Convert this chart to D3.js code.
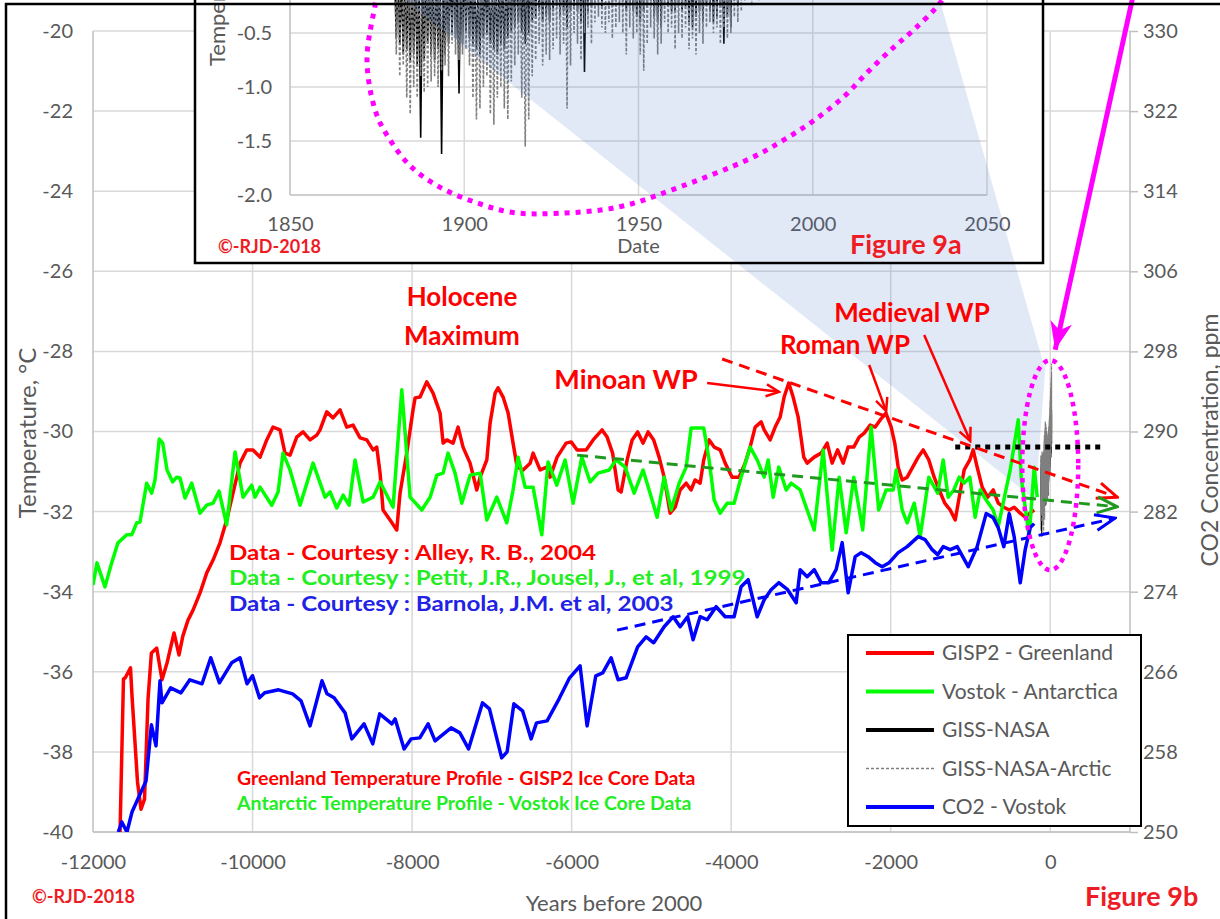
<!DOCTYPE html>
<html><head><meta charset="utf-8">
<script src="https://cdn.jsdelivr.net/npm/d3@7"></script>
<style>html,body{margin:0;padding:0;background:#fff;overflow:hidden}svg{display:block;font-family:Lato,'Open Sans',sans-serif}</style>
</head><body><svg id="c" width="1220" height="919"></svg>
<script>
// ---------------- DATA ----------------
const yearTicks = [-12000,-10000,-8000,-6000,-4000,-2000,0];
const tempTicks = [-40,-38,-36,-34,-32,-30,-28,-26,-24,-22,-20];
const co2Ticks  = [250,258,266,274,282,290,298,306,314,322,330];
const insetYearTicks = [1850,1900,1950,2000,2050];
const insetTempTicks = [-2.0,-1.5,-1.0,-0.5];
const legendNames = ["GISP2 - Greenland","Vostok - Antarctica","GISS-NASA","GISS-NASA-Arctic","CO2 - Vostok"];

// GISP2 Greenland temperature [years before 2000, °C]
const gisp2 = [
[-11661,-40.0],[-11618,-36.18],[-11595,-36.15],[-11530,-35.90],[-11511,-36.60],[-11442,-38.75],[-11398,-39.43],[-11354,-39.18],[-11310,-36.68],[-11268,-35.53],
[-11201,-35.41],[-11135,-36.20],[-11072,-35.78],[-10984,-35.03],[-10922,-35.58],[-10874,-35.11],[-10809,-34.71],[-10746,-34.46],[-10658,-34.03],[-10574,-33.53],
[-10495,-33.21],[-10408,-32.78],[-10324,-32.21],[-10245,-31.54],[-10157,-30.79],[-10073,-30.46],[-9994,-30.46],[-9906,-30.64],[-9822,-30.21],[-9743,-29.89],
[-9655,-29.96],[-9593,-30.54],[-9530,-30.59],[-9446,-30.14],[-9367,-30.01],[-9279,-30.21],[-9195,-30.09],[-9154,-29.96],[-9070,-29.51],[-8991,-29.66],
[-8903,-29.46],[-8819,-29.89],[-8740,-29.84],[-8652,-30.16],[-8568,-30.21],[-8489,-30.46],[-8443,-30.39],[-8401,-31.04],[-8364,-31.96],[-8276,-32.21],
[-8192,-32.46],[-8151,-31.54],[-8067,-30.54],[-7988,-29.46],[-7962,-29.16],[-7900,-29.14],[-7816,-28.76],[-7737,-29.04],[-7649,-29.54],[-7611,-30.29],
[-7565,-30.21],[-7486,-30.29],[-7423,-29.89],[-7361,-30.39],[-7273,-30.79],[-7189,-31.46],[-7147,-31.14],[-7063,-30.71],[-7022,-29.79],[-6959,-29.04],
[-6922,-28.91],[-6859,-29.14],[-6796,-29.54],[-6734,-30.29],[-6683,-30.89],[-6608,-30.96],[-6520,-30.79],[-6483,-30.54],[-6395,-30.96],[-6311,-30.89],
[-6270,-31.14],[-6182,-30.64],[-6069,-30.29],[-6006,-30.26],[-5931,-30.46],[-5818,-30.46],[-5730,-30.21],[-5618,-29.96],[-5555,-30.14],[-5486,-30.54],
[-5417,-31.46],[-5379,-31.51],[-5304,-30.71],[-5241,-30.21],[-5172,-30.01],[-5104,-30.29],[-5041,-30.01],[-4971,-30.21],[-4903,-30.64],[-4840,-31.14],
[-4765,-32.04],[-4702,-31.89],[-4640,-31.46],[-4564,-31.29],[-4502,-31.46],[-4452,-31.21],[-4389,-31.29],[-4344,-30.71],[-4276,-30.21],[-4213,-30.39],
[-4138,-30.46],[-4075,-30.79],[-3988,-31.14],[-3900,-31.14],[-3825,-30.79],[-3762,-30.39],[-3699,-29.89],[-3624,-29.76],[-3586,-29.96],[-3511,-30.21],
[-3448,-29.89],[-3386,-29.64],[-3336,-29.14],[-3278,-28.79],[-3223,-29.14],[-3160,-29.64],[-3090,-30.64],[-3047,-30.79],[-2959,-30.64],[-2872,-30.54],
[-2796,-30.29],[-2734,-30.79],[-2665,-30.46],[-2596,-30.79],[-2533,-30.39],[-2463,-30.39],[-2395,-30.14],[-2332,-30.04],[-2257,-29.84],[-2194,-29.89],
[-2132,-29.71],[-2060,-29.54],[-1994,-29.89],[-1949,-30.29],[-1906,-30.89],[-1856,-31.21],[-1793,-31.14],[-1724,-30.89],[-1655,-30.64],[-1593,-30.46],
[-1522,-30.71],[-1455,-31.14],[-1392,-31.46],[-1322,-31.79],[-1254,-31.96],[-1191,-32.21],[-1141,-31.64],[-1079,-30.96],[-1008,-30.71],[-966,-30.46],
[-916,-30.89],[-853,-31.39],[-784,-31.64],[-715,-31.46],[-652,-31.79],[-582,-31.89],[-514,-31.96],[-452,-31.89],[-376,-32.04],[-314,-32.14],
[-251,-32.04],[-201,-31.96]
];

// Vostok Antarctica temperature [years before 2000, °C]
const vostok = [
[-12000,-33.83],[-11950,-33.28],[-11850,-33.88],[-11766,-33.28],[-11687,-32.78],[-11577,-32.58],[-11515,-32.58],[-11452,-32.28],[-11411,-32.26],[-11327,-31.29],
[-11264,-31.54],[-11223,-31.21],[-11169,-30.19],[-11126,-30.29],[-11072,-30.96],[-11001,-31.26],[-10950,-31.14],[-10909,-31.16],[-10846,-31.66],[-10762,-31.29],
[-10658,-32.04],[-10574,-31.84],[-10495,-31.79],[-10420,-31.49],[-10324,-32.33],[-10219,-30.51],[-10119,-31.64],[-10010,-31.34],[-9969,-31.64],[-9906,-31.39],
[-9759,-31.84],[-9680,-31.51],[-9618,-30.54],[-9530,-30.96],[-9404,-31.84],[-9241,-30.79],[-9091,-31.64],[-9028,-31.51],[-8944,-31.91],[-8865,-31.59],
[-8790,-31.84],[-8715,-30.71],[-8614,-31.76],[-8489,-31.64],[-8401,-31.26],[-8238,-31.89],[-8129,-28.96],[-8025,-31.64],[-7878,-31.96],[-7774,-31.64],
[-7690,-31.09],[-7611,-31.04],[-7549,-30.54],[-7461,-31.04],[-7377,-31.79],[-7273,-31.09],[-7147,-31.04],[-7063,-32.21],[-6938,-31.64],[-6813,-32.28],
[-6734,-31.46],[-6671,-30.64],[-6583,-31.39],[-6483,-31.39],[-6374,-32.58],[-6295,-30.76],[-6186,-31.34],[-6082,-30.71],[-5981,-31.79],[-5872,-30.64],
[-5768,-31.26],[-5668,-31.04],[-5530,-30.96],[-5442,-30.71],[-5329,-30.89],[-5216,-31.54],[-5104,-30.96],[-5016,-31.54],[-4928,-32.14],[-4840,-31.14],
[-4752,-31.96],[-4652,-31.29],[-4564,-30.89],[-4502,-29.91],[-4344,-29.91],[-4276,-30.71],[-4213,-31.71],[-4138,-32.04],[-4050,-31.79],[-3963,-31.79],
[-3875,-31.14],[-3762,-30.39],[-3674,-30.71],[-3586,-31.14],[-3536,-30.71],[-3473,-31.64],[-3403,-30.89],[-3310,-31.46],[-3248,-31.29],[-3135,-31.46],
[-3047,-31.96],[-2959,-32.46],[-2847,-30.46],[-2734,-32.96],[-2646,-31.14],[-2558,-32.53],[-2463,-31.14],[-2351,-32.46],[-2245,-29.89],[-2150,-31.96],
[-2057,-31.46],[-1969,-31.46],[-1931,-30.96],[-1856,-31.96],[-1793,-32.28],[-1705,-31.79],[-1630,-32.63],[-1522,-31.14],[-1411,-31.54],[-1342,-30.71],
[-1279,-31.64],[-1209,-31.46],[-1141,-31.14],[-1079,-31.29],[-1008,-31.14],[-941,-32.14],[-878,-31.46],[-803,-31.71],[-715,-31.96],[-652,-32.38],
[-582,-31.71],[-502,-30.96],[-401,-29.71],[-364,-31.14],[-264,-32.63],[-201,-30.89],[-163,-31.64]
];

// CO2 Vostok [years before 2000, ppm]
const co2 = [
[-11683,250.0],[-11639,251.0],[-11574,250.0],[-11511,252.0],[-11398,254.0],[-11335,255.1],[-11268,260.7],[-11210,258.6],[-11160,265.1],[-11135,262.9],
[-11027,264.4],[-10897,263.9],[-10786,265.2],[-10633,264.8],[-10524,267.4],[-10415,264.9],[-10262,266.9],[-10157,267.4],[-10069,264.8],[-10000,265.6],
[-9913,263.4],[-9847,263.9],[-9673,264.2],[-9498,263.8],[-9392,263.1],[-9279,260.6],[-9129,265.1],[-9066,263.8],[-8978,263.4],[-8840,261.9],
[-8755,259.3],[-8602,260.8],[-8493,258.8],[-8406,261.8],[-8253,260.8],[-8213,261.3],[-8100,258.3],[-8013,259.3],[-7903,259.4],[-7799,260.8],
[-7712,259.1],[-7511,260.4],[-7401,259.9],[-7292,258.3],[-7117,262.9],[-7030,262.3],[-6877,257.4],[-6809,258.0],[-6724,262.8],[-6615,262.1],
[-6508,259.3],[-6440,260.9],[-6307,261.1],[-6157,263.3],[-6025,265.4],[-5894,266.6],[-5806,260.6],[-5697,265.6],[-5610,265.9],[-5505,267.4],
[-5417,265.2],[-5317,265.4],[-5172,268.5],[-5066,269.5],[-4971,268.9],[-4840,270.5],[-4727,271.5],[-4640,270.5],[-4546,271.5],[-4477,269.2],
[-4389,271.5],[-4301,271.2],[-4188,272.5],[-4075,271.5],[-3963,271.5],[-3875,274.5],[-3787,275.2],[-3674,271.5],[-3586,273.2],[-3499,274.2],
[-3403,274.9],[-3292,274.2],[-3185,272.9],[-3135,276.2],[-3047,275.5],[-2959,276.2],[-2872,274.9],[-2776,274.9],[-2684,276.2],[-2608,278.9],
[-2533,273.9],[-2445,277.5],[-2370,277.9],[-2282,277.5],[-2194,276.9],[-2107,276.5],[-2019,276.9],[-1906,277.9],[-1793,278.5],[-1655,279.5],
[-1568,279.2],[-1480,278.2],[-1411,277.7],[-1342,278.5],[-1254,278.2],[-1166,278.5],[-1028,276.5],[-916,278.5],[-803,281.8],[-715,281.4],
[-652,280.4],[-582,278.5],[-514,281.8],[-452,279.5],[-376,274.9],[-314,278.2],[-251,280.4],[-201,280.8]
];

// GISS-NASA anomalies (annual low / high of monthly values), 1880-2017
const gissStartYear = 1880;
const gissOffset = -31;   // shift of anomalies onto the main temperature axis
const arcticLo = [
-0.70,-0.90,-0.80,-1.10,-1.25,-1.00,-1.10,-0.90,-1.05,-1.00,
-0.95,-0.90,-1.00,-0.85,-0.80,-0.90,-0.60,-0.70,-0.75,-0.70,
-0.65,-0.80,-1.10,-1.30,-1.20,-1.00,-0.90,-1.25,-1.35,-1.10,
-1.00,-1.20,-1.30,-0.95,-0.80,-0.70,-1.10,-1.55,-1.30,-0.90,
-0.75,-0.60,-0.80,-0.70,-0.75,-0.65,-0.55,-0.70,-0.60,-1.20,
-0.80,-0.50,-0.60,-0.75,-0.50,-0.45,-0.60,-0.40,-0.35,-0.45,
-0.50,-0.40,-0.55,-0.45,-0.40,-0.50,-0.70,-0.45,-0.55,-0.50,
-0.70,-0.85,-0.60,-0.45,-0.55,-0.70,-0.60,-0.40,-0.50,-0.45,
-0.65,-0.50,-0.55,-0.45,-0.65,-0.55,-0.70,-0.50,-0.60,-0.45,
-0.40,-0.50,-0.45,-0.60,-0.45,-0.55,-0.50,-0.35,-0.40,-0.30,
-0.20,-0.15,-0.25,-0.10,-0.20,-0.15,-0.05,-0.10,0.00,-0.10,
0.05,0.00,-0.10,-0.05,0.10,0.20,0.10,0.15,0.30,0.20,
0.25,0.35,0.40,0.45,0.35,0.60,0.55,0.70,0.50,0.55,
0.80,0.70,0.85,0.60,0.75,0.90,1.10,0.95];
const arcticHi = [
0.30,0.20,0.40,0.25,0.10,0.35,0.30,0.20,0.30,0.40,
0.35,0.30,0.20,0.25,0.30,0.40,0.45,0.50,0.35,0.40,
0.45,0.35,0.20,0.15,0.25,0.30,0.40,0.20,0.15,0.30,
0.30,0.25,0.20,0.35,0.45,0.50,0.30,0.10,0.25,0.45,
0.55,0.70,0.60,0.75,0.65,0.80,0.90,0.75,0.85,0.60,
0.85,1.00,0.90,0.80,1.05,1.10,0.95,1.20,1.25,1.10,
1.05,1.15,0.90,1.10,1.20,1.00,0.85,1.05,0.90,0.95,
0.85,0.80,0.95,1.10,0.90,0.80,0.75,1.00,0.95,0.90,
0.85,0.95,0.80,0.90,0.70,0.65,0.60,0.75,0.70,0.80,
0.75,0.70,0.80,0.85,0.70,0.75,0.65,0.90,0.85,0.95,
1.05,1.10,0.95,1.15,1.00,1.10,1.20,1.25,1.30,1.20,
1.35,1.40,1.20,1.30,1.45,1.60,1.50,1.55,1.75,1.65,
1.70,1.80,1.85,1.90,1.80,2.05,2.00,2.20,2.00,2.05,
2.25,2.20,2.35,2.15,2.30,2.45,2.70,2.50];
const gissLo = [
-0.55,-0.60,-0.70,-0.65,-0.75,-0.70,-0.80,-1.47,-0.75,-0.60,
-0.70,-0.75,-0.65,-1.62,-0.70,-0.60,-0.50,-0.55,-1.06,-0.60,
-0.50,-0.55,-0.60,-0.65,-0.70,-0.55,-0.50,-0.60,-0.65,-0.70,
-0.60,-0.65,-0.55,-0.50,-0.45,-0.40,-0.50,-0.60,-0.50,-0.40,
-0.35,-0.30,-0.40,-0.35,-0.40,-0.30,-0.25,-0.35,-0.30,-0.45,
-0.30,-0.25,-0.30,-0.40,-0.86,-0.30,-0.25,-0.20,-0.20,-0.25,
-0.15,-0.10,-0.20,-0.15,-0.10,-0.20,-0.30,-0.25,-0.30,-0.35,
-0.40,-0.30,-0.25,-0.20,-0.35,-0.40,-0.45,-0.20,-0.25,-0.30,
-0.30,-0.25,-0.30,-0.25,-0.40,-0.45,-0.35,-0.30,-0.40,-0.25,
-0.30,-0.40,-0.35,-0.25,-0.60,-0.35,-0.45,-0.20,-0.25,-0.15,
-0.05,-0.05,-0.15,0.00,-0.10,-0.10,0.00,0.05,0.10,0.00,
0.15,0.10,-0.05,0.00,0.10,0.20,0.15,0.20,0.35,0.20,
0.25,0.35,0.40,0.40,0.35,0.45,0.40,0.50,0.35,0.45,
0.55,0.45,0.50,0.50,0.55,0.65,0.80,0.70];
const gissHi = [
0.10,0.05,0.00,0.05,-0.05,0.00,0.05,0.00,0.05,0.10,
0.00,0.05,0.00,0.05,0.00,0.05,0.10,0.15,0.05,0.10,
0.15,0.10,0.00,-0.05,-0.10,0.00,0.05,-0.05,-0.05,0.00,
0.00,-0.05,0.00,0.05,0.15,0.20,0.05,-0.05,0.05,0.10,
0.15,0.20,0.15,0.15,0.20,0.25,0.30,0.25,0.30,0.20,
0.30,0.35,0.30,0.25,0.35,0.30,0.35,0.40,0.45,0.40,
0.50,0.55,0.45,0.50,0.60,0.45,0.30,0.35,0.30,0.30,
0.30,0.40,0.45,0.50,0.35,0.30,0.25,0.50,0.45,0.40,
0.40,0.45,0.40,0.45,0.30,0.30,0.35,0.40,0.35,0.45,
0.45,0.35,0.40,0.50,0.35,0.40,0.30,0.55,0.50,0.60,
0.70,0.75,0.60,0.80,0.65,0.65,0.70,0.80,0.85,0.80,
0.90,0.85,0.70,0.75,0.85,0.95,0.90,1.00,1.15,1.00,
1.05,1.10,1.15,1.15,1.10,1.20,1.15,1.25,1.10,1.20,
1.30,1.20,1.25,1.25,1.30,1.45,1.55,1.45];

// annotation geometry in data units
const redTrend   = [[-4113,-28.19],[840,-31.64]];
const greenTrend = [[-5931,-30.59],[840,-31.88]];
const blueTrend  = [[-5430,270.16],[815,281.35]];   // ppm
const blackLevel = [[-1191,-30.39],[689,-30.39]];
const minoanArrow  = [[-4301,-28.79],[-3398,-29.01]];
const romanArrow   = [[-2270,-28.34],[-2057,-29.49]];
const medievalArrow= [[-1580,-27.59],[-1003,-30.24]];
const magentaArrow = [[1041,-19.1],[62,-27.96]];
const cone = [[-8226,-19.0],[-1417,-19.0],[-63,-28.46],[-188,-31.71]];
const zoomEllipse = {year:0, temp:-30.84, dYear:351, dTemp:2.62};
const insetLoop = [[1875.9,0.08],[1874.7,-0.19],[1872.1,-0.75],[1874.7,-1.24],[1878.7,-1.49],[1884.8,-1.74],[1893.1,-1.93],[1903.4,-2.07],[1913.5,-2.16],[1927.0,-2.17],[1944.5,-2.11],[1959.8,-1.95],[1982.2,-1.66],[1991.7,-1.49],[2000.3,-1.31],[2008.9,-1.09],[2015.8,-0.86],[2023.3,-0.63],[2029.0,-0.47],[2036.8,-0.21],[2041,0.04]];

// ---------------- CHART ----------------
const svg = d3.select('#c');
const GRAY='#595959', GRID='#d9d9d9', AX='#bfbfbf', RED='#ff0000', FIGRED='#ee1c25';
const L=93,R=1130,T=31,B=832;
const x  = d3.scaleLinear().domain([-12000,1000]).range([L,R]);
const yT = d3.scaleLinear().domain([-40,-20]).range([B,T]);
const yC = d3.scaleLinear().domain([250,330]).range([B,T]);

const defs = svg.append('defs');
defs.append('clipPath').attr('id','plotClip').append('rect').attr('x',L).attr('y',T).attr('width',R-L).attr('height',B-T);
defs.append('clipPath').attr('id','insetClip').append('rect').attr('x',290).attr('y',-400).attr('width',697).attr('height',595);
defs.append('clipPath').attr('id','insetBoxClip').append('rect').attr('x',196).attr('y',-20).attr('width',846).attr('height',282);

function openHead(id,color,len,half,w){
  defs.append('marker').attr('id',id).attr('markerUnits','userSpaceOnUse')
    .attr('viewBox',`-2 -2 ${len+4} ${2*half+4}`).attr('markerWidth',len+4).attr('markerHeight',2*half+4)
    .attr('refX',len).attr('refY',half).attr('orient','auto')
    .append('path').attr('d',`M0,0 L${len},${half} L0,${2*half}`).attr('fill','none')
    .attr('stroke',color).attr('stroke-width',w).attr('stroke-linejoin','miter');
}
openHead('hRed',RED,13,6,2.5);
openHead('tRed',RED,20,8,3);
openHead('tGreen','#1f9a1f',20,8,3);
openHead('tBlue','#0000ff',20,8,3);
defs.append('marker').attr('id','hMag').attr('markerUnits','userSpaceOnUse')
  .attr('viewBox','0 0 30 22').attr('markerWidth',30).attr('markerHeight',22)
  .attr('refX',28).attr('refY',11).attr('orient','auto')
  .append('path').attr('d','M0,0 L28,11 L0,22 L8,11 Z').attr('fill','#ff00ff');

svg.append('rect').attr('width',1220).attr('height',919).attr('fill','#fff');

// gridlines
const g = svg.append('g');
g.selectAll('.hg').data(tempTicks).join('line').attr('x1',L).attr('x2',R)
  .attr('y1',d=>yT(d)).attr('y2',d=>yT(d)).attr('stroke',GRID).attr('stroke-width',1.5);
g.selectAll('.vg').data(yearTicks.slice(1)).join('line').attr('y1',T).attr('y2',B)
  .attr('x1',d=>x(d)).attr('x2',d=>x(d)).attr('stroke',GRID).attr('stroke-width',1.5);
g.append('line').attr('x1',L).attr('x2',L).attr('y1',T).attr('y2',B).attr('stroke',AX).attr('stroke-width',1.5);
g.append('line').attr('x1',R).attr('x2',R).attr('y1',T).attr('y2',B).attr('stroke',AX).attr('stroke-width',1.5);
g.append('line').attr('x1',L).attr('x2',R).attr('y1',B).attr('y2',B).attr('stroke',AX).attr('stroke-width',1.5);

// cone (under series)
const conePts = cone.map(d=>[x(d[0]),yT(d[1])].join(',')).join(' ');
svg.append('polygon').attr('points',conePts).attr('fill','#4472c4').attr('opacity',0.16);

// axes labels
const axL = d3.axisLeft(yT).tickValues(tempTicks).tickSize(0).tickPadding(20).tickFormat(d=>String(d));
const axR = d3.axisRight(yC).tickValues(co2Ticks).tickSize(8).tickPadding(5).tickFormat(d=>String(d));
const axB = d3.axisBottom(x).tickValues(yearTicks).tickSize(0).tickPadding(23).tickFormat(d=>String(d));
function styleAxis(sel){ sel.select('.domain').remove(); sel.selectAll('text').attr('fill',GRAY).style('font-size','20px').style('font-family','Lato'); sel.selectAll('line').attr('stroke',AX).attr('stroke-width',1.5); }
svg.append('g').attr('transform',`translate(${L},0)`).call(axL).call(styleAxis);
svg.append('g').attr('transform',`translate(${R},0)`).call(axR).call(styleAxis);
svg.append('g').attr('transform',`translate(0,${B})`).call(axB).call(styleAxis);

// axis titles
svg.append('text').attr('transform','translate(36,433) rotate(-90)').attr('text-anchor','middle')
  .attr('fill',GRAY).style('font-size','24px').text('Temperature, °C');
svg.append('text').attr('transform','translate(1218,440) rotate(-90)').attr('text-anchor','middle')
  .attr('fill',GRAY).style('font-size','23px').text('CO2 Concentration, ppm');
svg.append('text').attr('x',614).attr('y',911).attr('text-anchor','middle')
  .attr('fill',GRAY).style('font-size','22px').text('Years before 2000');

// series
const plot = svg.append('g').attr('clip-path','url(#plotClip)');
const lineT = d3.line().x(d=>x(d[0])).y(d=>yT(d[1]));
const lineC = d3.line().x(d=>x(d[0])).y(d=>yC(d[1]));
function zig(lo,hi){ const pts=[]; lo.forEach((v,i)=>{ pts.push([gissStartYear+i,hi[i]]); pts.push([gissStartYear+i+0.5,v]); }); return pts; }
const gissZig = zig(gissLo,gissHi), arcticZig = zig(arcticLo,arcticHi);
const lineG = d3.line().x(d=>x(d[0]-2000)).y(d=>yT(d[1]+gissOffset));
plot.append('path').attr('d',lineT(gisp2)).attr('fill','none').attr('stroke','#ff0000').attr('stroke-width',3.5).attr('stroke-linejoin','round');
plot.append('path').attr('d',lineT(vostok)).attr('fill','none').attr('stroke','#00ff00').attr('stroke-width',3.5).attr('stroke-linejoin','round');
plot.append('path').attr('d',lineG(gissZig)).attr('fill','none').attr('stroke','#000').attr('stroke-width',1.2);
plot.append('path').attr('d',lineG(arcticZig)).attr('fill','none').attr('stroke','#7f7f7f').attr('stroke-width',1.2).attr('stroke-dasharray','3,2');
plot.append('path').attr('d',lineC(co2)).attr('fill','none').attr('stroke','#0000ff').attr('stroke-width',3.5).attr('stroke-linejoin','round');

// trend lines & level
const ann = svg.append('g');
ann.append('path').attr('d',lineT(blackLevel)).attr('stroke','#000').attr('stroke-width',5).attr('stroke-dasharray','5,5').attr('fill','none');
ann.append('path').attr('d',lineT(redTrend)).attr('stroke',RED).attr('stroke-width',3).attr('stroke-dasharray','11,7').attr('fill','none').attr('marker-end','url(#tRed)');
ann.append('path').attr('d',lineT(greenTrend)).attr('stroke','#1f9a1f').attr('stroke-width',3).attr('stroke-dasharray','11,7').attr('fill','none').attr('marker-end','url(#tGreen)');
ann.append('path').attr('d',lineC(blueTrend)).attr('stroke','#0000ff').attr('stroke-width',3).attr('stroke-dasharray','11,7').attr('fill','none').attr('marker-end','url(#tBlue)');
[minoanArrow,romanArrow,medievalArrow].forEach(a=>{
  ann.append('path').attr('d',lineT(a)).attr('stroke',RED).attr('stroke-width',2.5).attr('fill','none').attr('marker-end','url(#hRed)');
});

function txt(xp,yp,s,size,color,anchor,weight){
  return svg.append('text').attr('x',xp).attr('y',yp).attr('text-anchor',anchor||'start')
    .attr('fill',color).style('font-size',size+'px').style('font-weight',weight||'bold').text(s);
}
function wide(xp,yp,s,size,color,sx){
  return svg.append('text').attr('transform',`translate(${xp},${yp}) scale(${sx},1)`)
    .attr('fill',color).style('font-size',size+'px').style('font-weight','bold').text(s);
}
txt(462,306,'Holocene',26,RED,'middle');
txt(462,345,'Maximum',26,RED,'middle');
txt(626,389,'Minoan WP',27,RED,'middle');
txt(845,354,'Roman WP',26,RED,'middle');
txt(912,322,'Medieval WP',26,RED,'middle');
wide(229,560,'Data - Courtesy : Alley, R. B., 2004',20.5,'#ff0000',1.18);
wide(229,585,'Data - Courtesy : Petit, J.R., Jousel, J., et al, 1999',20.5,'#22ee22',1.18);
wide(229,611,'Data - Courtesy : Barnola, J.M. et al, 2003',20.5,'#2222e6',1.18);
txt(237,785,'Greenland Temperature Profile - GISP2 Ice Core Data',19.5,'#ff0000');
txt(237,810,'Antarctic Temperature Profile - Vostok Ice Core Data',19.5,'#22ee22');
txt(32,903,'©-RJD-2018',18,FIGRED);
txt(1085,906,'Figure 9b',27,FIGRED);

// legend
const lg = svg.append('g');
lg.append('rect').attr('x',848).attr('y',635).attr('width',293).attr('height',191).attr('fill','#fff').attr('stroke','#000').attr('stroke-width',2);
const lgColor=['#ff0000','#00ff00','#000000','#7f7f7f','#0000ff'];
const lgY = d3.scalePoint().domain(legendNames).range([653,807]);
legendNames.forEach((n,i)=>{
  const yy=lgY(n);
  const ln=lg.append('line').attr('x1',866).attr('x2',934).attr('y1',yy).attr('y2',yy).attr('stroke',lgColor[i]).attr('stroke-width',i===3?1.5:4);
  if(i===3) ln.attr('stroke-dasharray','3,2');
  lg.append('text').attr('x',942).attr('y',yy+7).attr('fill',GRAY).style('font-size','21px').text(n);
});

// main zoom ellipse
svg.append('ellipse').attr('cx',x(zoomEllipse.year)).attr('cy',yT(zoomEllipse.temp))
  .attr('rx',x(zoomEllipse.year+zoomEllipse.dYear)-x(zoomEllipse.year))
  .attr('ry',yT(zoomEllipse.temp-zoomEllipse.dTemp)-yT(zoomEllipse.temp))
  .attr('fill','none').attr('stroke','#ff00ff').attr('stroke-width',4.5).attr('stroke-dasharray','4.5,5');

// ---------------- INSET (Figure 9a) ----------------
const xi = d3.scaleLinear().domain([1850,2050]).range([290,987]);
const yi = d3.scaleLinear().domain([-2,2.5]).range([195,-291]);
const insetGrid = d3.range(-1.5,2.51,0.5);
const ins = svg.append('g');
ins.append('rect').attr('x',195).attr('y',-20).attr('width',848).attr('height',283).attr('fill','#fff').attr('stroke','#000').attr('stroke-width',2.5);
ins.selectAll('.ihg').data(insetGrid).join('line').attr('x1',290).attr('x2',987)
  .attr('y1',d=>yi(d)).attr('y2',d=>yi(d)).attr('stroke',GRID).attr('stroke-width',1.5);
ins.selectAll('.ivg').data(insetYearTicks.slice(1)).join('line').attr('y1',-300).attr('y2',195)
  .attr('x1',d=>xi(d)).attr('x2',d=>xi(d)).attr('stroke',GRID).attr('stroke-width',1.5);
ins.append('line').attr('x1',290).attr('x2',290).attr('y1',-300).attr('y2',195).attr('stroke',AX).attr('stroke-width',1.5);
ins.append('line').attr('x1',290).attr('x2',987).attr('y1',195).attr('y2',195).attr('stroke',AX).attr('stroke-width',1.5);
const ip = ins.append('g').attr('clip-path','url(#insetClip)');
const lineI = d3.line().x(d=>xi(d[0])).y(d=>yi(d[1]));
ip.append('path').attr('d',lineI(gissZig)).attr('fill','none').attr('stroke','#000').attr('stroke-width',1.6);
ip.append('path').attr('d',lineI(arcticZig)).attr('fill','none').attr('stroke','#7f7f7f').attr('stroke-width',1.6).attr('stroke-dasharray','3,2');
const axIL = d3.axisLeft(yi).tickValues(insetTempTicks).tickSize(0).tickPadding(18).tickFormat(d=>d.toFixed(1));
const axIB = d3.axisBottom(xi).tickValues(insetYearTicks).tickSize(0).tickPadding(22).tickFormat(d=>String(d));
ins.append('g').attr('transform','translate(290,0)').call(axIL).call(styleAxis);
ins.append('g').attr('transform','translate(0,195)').call(axIB).call(styleAxis);
ins.append('text').attr('x',xi(1950)).attr('y',253).attr('text-anchor','middle').attr('fill',GRAY).style('font-size','20px').text('Date');
ins.append('text').attr('transform','translate(225,66) rotate(-90)').attr('fill',GRAY).style('font-size','22px').text('Temperature Anomaly, °C');
// cone over inset
svg.append('polygon').attr('points',conePts).attr('fill','#4472c4').attr('opacity',0.16).attr('clip-path','url(#insetBoxClip)');
txt(218,253,'©-RJD-2018',18,FIGRED);
txt(850,254,'Figure 9a',27,FIGRED);
svg.append('path').attr('d',d3.line().x(d=>xi(d[0])).y(d=>yi(d[1])).curve(d3.curveCatmullRom)(insetLoop))
  .attr('fill','none').attr('stroke','#ff00ff').attr('stroke-width',5).attr('stroke-dasharray','5,6');

// magenta pointer arrow
svg.append('path').attr('d',lineT(magentaArrow)).attr('stroke','#ff00ff').attr('stroke-width',5).attr('fill','none').attr('marker-end','url(#hMag)');

// outer frame
svg.append('rect').attr('x',6).attr('y',4).attr('width',1300).attr('height',1000).attr('fill','none').attr('stroke','#000').attr('stroke-width',2.5);
</script></body></html>
